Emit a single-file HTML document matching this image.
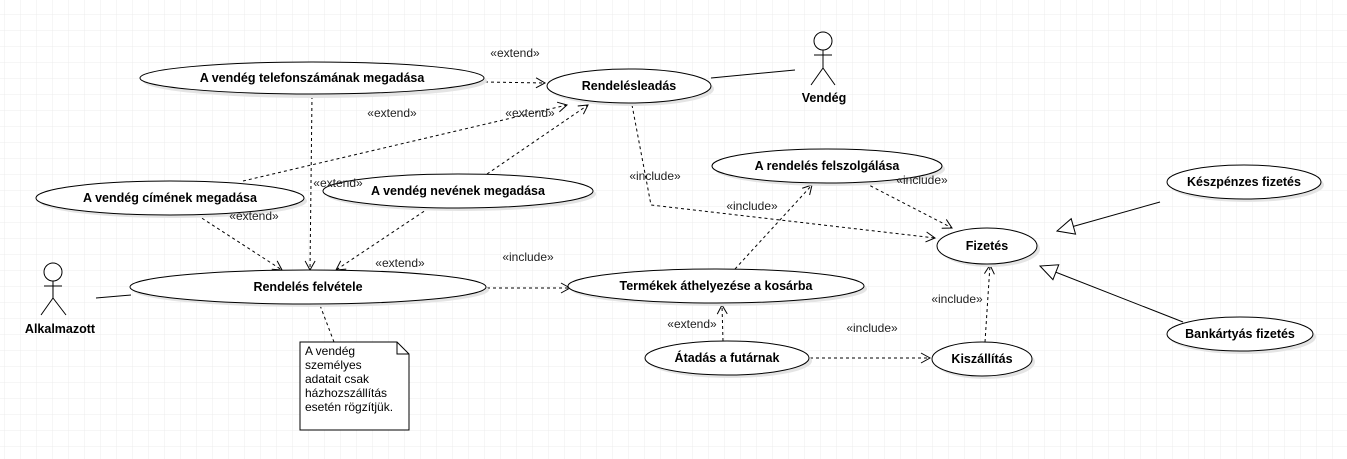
<!DOCTYPE html>
<html><head><meta charset="utf-8"><style>
html,body{margin:0;padding:0;background:#fff;}
svg{display:block;}
text{font-family:"Liberation Sans",sans-serif;}
.b{font-weight:bold;font-size:12.5px;text-anchor:middle;}
.s{font-size:12px;text-anchor:middle;fill:#222;}
.e{fill:#fff;stroke:#000;stroke-width:1;}
.sh{fill:#e4e4e4;}
.d{fill:none;stroke:#000;stroke-width:1;stroke-dasharray:3,3;}
.l{fill:none;stroke:#000;stroke-width:1;}
</style></head><body>
<svg width="1347" height="459" viewBox="0 0 1347 459" xmlns="http://www.w3.org/2000/svg">
<defs>
<pattern id="g" x="4" y="14" width="16" height="16" patternUnits="userSpaceOnUse">
<path d="M0 0H16M0 0V16" stroke="#ececec" stroke-width="1" fill="none"/>
</pattern>
<marker id="oa" markerWidth="12" markerHeight="12" refX="10" refY="6" orient="auto" markerUnits="userSpaceOnUse">
<path d="M1 1 L10 6 L1 11" fill="none" stroke="#000"/>
</marker>
<marker id="tri" markerWidth="20" markerHeight="20" refX="18" refY="10" orient="auto" markerUnits="userSpaceOnUse">
<path d="M1 2 L18 10 L1 18 Z" fill="#fff" stroke="#000"/>
</marker>
</defs>
<rect width="1347" height="459" fill="#fff"/>
<rect width="1347" height="459" fill="url(#g)"/>

<path class="d" d="M485 82 L545 83" marker-end="url(#oa)"/>
<path class="d" d="M312 96 L310 270" marker-end="url(#oa)"/>
<path class="d" d="M243 181 L567 105" marker-end="url(#oa)"/>
<path class="d" d="M487 174 L588 105" marker-end="url(#oa)"/>
<path class="d" d="M197 215 L282 270" marker-end="url(#oa)"/>
<path class="d" d="M429 208 L336 270" marker-end="url(#oa)"/>
<path class="d" d="M632 105 L651 205 L935 238" marker-end="url(#oa)"/>
<path class="d" d="M865 183 L952 228" marker-end="url(#oa)"/>
<path class="d" d="M735 269 L812 185" marker-end="url(#oa)"/>
<path class="d" d="M985 342 L990 265" marker-end="url(#oa)"/>
<path class="d" d="M723 341 L722 305" marker-end="url(#oa)"/>
<path class="d" d="M810 358 L930 358" marker-end="url(#oa)"/>
<path class="d" d="M487 288 L570 288" marker-end="url(#oa)"/>
<path class="d" d="M318 300 L334 342"/>
<path class="l" d="M1160 202 L1057 231" marker-end="url(#tri)"/>
<path class="l" d="M1183 322 L1040 266" marker-end="url(#tri)"/>
<path class="l" d="M711 78 L795 70"/>
<path class="l" d="M96 298 L131 295"/>

<ellipse class="sh" cx="315" cy="81" rx="172" ry="17"/>
<ellipse class="e" cx="312" cy="78" rx="172" ry="16"/>
<ellipse class="sh" cx="632" cy="89" rx="82" ry="17"/>
<ellipse class="e" cx="629" cy="86" rx="82" ry="17"/>
<ellipse class="sh" cx="173" cy="201" rx="134" ry="17"/>
<ellipse class="e" cx="170" cy="198" rx="134" ry="17"/>
<ellipse class="sh" cx="461" cy="194" rx="135" ry="17"/>
<ellipse class="e" cx="458" cy="191" rx="135" ry="17"/>
<ellipse class="sh" cx="311" cy="290" rx="178" ry="17"/>
<ellipse class="e" cx="308" cy="287" rx="178" ry="17"/>
<ellipse class="sh" cx="830" cy="169" rx="115" ry="17"/>
<ellipse class="e" cx="827" cy="166" rx="115" ry="17"/>
<ellipse class="sh" cx="990" cy="249" rx="50" ry="18"/>
<ellipse class="e" cx="987" cy="246" rx="50" ry="18"/>
<ellipse class="sh" cx="1247" cy="185" rx="77" ry="17"/>
<ellipse class="e" cx="1244" cy="182" rx="77" ry="17"/>
<ellipse class="sh" cx="1243" cy="337" rx="73" ry="17"/>
<ellipse class="e" cx="1240" cy="334" rx="73" ry="17"/>
<ellipse class="sh" cx="719" cy="289" rx="148" ry="17"/>
<ellipse class="e" cx="716" cy="286" rx="148" ry="17"/>
<ellipse class="sh" cx="730" cy="361" rx="82" ry="17"/>
<ellipse class="e" cx="727" cy="358" rx="82" ry="17"/>
<ellipse class="sh" cx="985" cy="362" rx="50" ry="17"/>
<ellipse class="e" cx="982" cy="359" rx="50" ry="17"/>

<text class="b" x="312" y="82">A vendég telefonszámának megadása</text>
<text class="b" x="629" y="90">Rendelésleadás</text>
<text class="b" x="170" y="202">A vendég címének megadása</text>
<text class="b" x="458" y="195">A vendég nevének megadása</text>
<text class="b" x="308" y="291">Rendelés felvétele</text>
<text class="b" x="827" y="170">A rendelés felszolgálása</text>
<text class="b" x="987" y="250">Fizetés</text>
<text class="b" x="1244" y="186">Készpénzes fizetés</text>
<text class="b" x="1240" y="338">Bankártyás fizetés</text>
<text class="b" x="716" y="290">Termékek áthelyezése a kosárba</text>
<text class="b" x="727" y="362">Átadás a futárnak</text>
<text class="b" x="982" y="363">Kiszállítás</text>

<text class="s" x="515" y="57">«extend»</text>
<text class="s" x="392" y="117">«extend»</text>
<text class="s" x="530" y="117">«extend»</text>
<text class="s" x="338" y="187">«extend»</text>
<text class="s" x="254" y="220">«extend»</text>
<text class="s" x="400" y="267">«extend»</text>
<text class="s" x="528" y="261">«include»</text>
<text class="s" x="655" y="180">«include»</text>
<text class="s" x="752" y="210">«include»</text>
<text class="s" x="922" y="184">«include»</text>
<text class="s" x="957" y="303">«include»</text>
<text class="s" x="872" y="332">«include»</text>
<text class="s" x="692" y="328">«extend»</text>

<g class="l">
<circle cx="823" cy="41" r="9" fill="#fff"/>
<path d="M823 50 V68 M814 55 H832 M823 68 L811 85 M823 68 L835 85"/>
<circle cx="53" cy="272" r="9" fill="#fff"/>
<path d="M53 281 V298 M44 286 H62 M53 298 L41 315 M53 298 L66 315"/>
</g>
<text class="b" x="824" y="102">Vendég</text>
<text class="b" x="60" y="333">Alkalmazott</text>

<path d="M300 342 H397 L409 354 V430 H300 Z" fill="#fff" stroke="#000"/>
<path d="M397 342 V354 H409" fill="none" stroke="#000"/>
<text font-size="12" fill="#000"><tspan x="305" y="355">A vendég</tspan><tspan x="305" y="369">személyes</tspan><tspan x="305" y="383">adatait csak</tspan><tspan x="305" y="397">házhozszállítás</tspan><tspan x="305" y="411">esetén rögzítjük.</tspan></text>
</svg>
</body></html>
